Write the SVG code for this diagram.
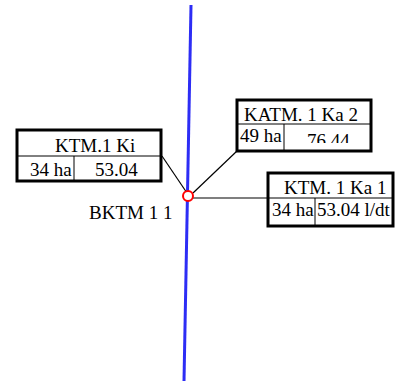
<svg xmlns="http://www.w3.org/2000/svg" width="398" height="382" viewBox="0 0 398 382">
<style>
.box{fill:#fff;stroke:#000;stroke-width:3}
.div{stroke:#000;stroke-width:1;fill:none}
.t{font-family:"Liberation Serif","Times New Roman",serif;font-size:19px;fill:#000}
.con{stroke:#000;stroke-width:1.2;fill:none}
</style>
<defs>
<clipPath id="c1a"><rect x="18" y="157" width="56" height="23"/></clipPath>
<clipPath id="c2a"><rect x="238" y="125" width="46" height="25"/></clipPath>
<clipPath id="c2b"><rect x="285" y="125" width="86" height="18"/></clipPath>
<clipPath id="c3a"><rect x="269" y="199" width="46" height="26"/></clipPath>
<clipPath id="c3b"><rect x="316" y="199" width="76" height="26"/></clipPath>
</defs>
<rect width="398" height="382" fill="#fff"/>
<g id="river">
<line x1="191" y1="5" x2="184" y2="381" stroke="#2d2df5" stroke-width="3"/>
</g>
<g id="connectors">
<line class="con" x1="162" y1="156" x2="187" y2="193"/>
<line class="con" x1="193" y1="193" x2="237" y2="151"/>
<line class="con" x1="193" y1="198" x2="268" y2="198"/>
</g>
<g id="node-ktm1ki">
<rect class="box" x="17" y="130" width="144" height="51"/>
<line class="div" x1="17" y1="156" x2="161" y2="156"/>
<line class="div" x1="74" y1="156" x2="74" y2="181"/>
<text class="t" x="55" y="152">KTM.1 Ki</text>
<text class="t" x="30" y="176" clip-path="url(#c1a)">34 ha</text>
<text class="t" x="95" y="176">53.04</text>
</g>
<g id="node-katm1ka2">
<rect class="box" x="237" y="100" width="134" height="51"/>
<line class="div" x1="237" y1="124" x2="371" y2="124"/>
<line class="div" x1="284" y1="124" x2="284" y2="151"/>
<text class="t" x="244" y="121">KATM. 1 Ka 2</text>
<text class="t" x="240" y="142" clip-path="url(#c2a)">49 ha</text>
<text class="t" x="307" y="147" clip-path="url(#c2b)">76 44</text>
</g>
<g id="node-ktm1ka1">
<rect class="box" x="268" y="173" width="125" height="53"/>
<line class="div" x1="268" y1="198" x2="393" y2="198"/>
<line class="div" x1="315" y1="198" x2="315" y2="226"/>
<text class="t" x="284" y="194">KTM. 1 Ka 1</text>
<text class="t" x="272" y="216" clip-path="url(#c3a)">34 ha</text>
<text class="t" x="317" y="216" clip-path="url(#c3b)">53.04 l/dt</text>
</g>
<g id="node-bktm11">
<circle cx="188" cy="196" r="5" fill="#fff" stroke="#ff0000" stroke-width="2"/>
<text class="t" x="89" y="219">BKTM 1 1</text>
</g>
</svg>
